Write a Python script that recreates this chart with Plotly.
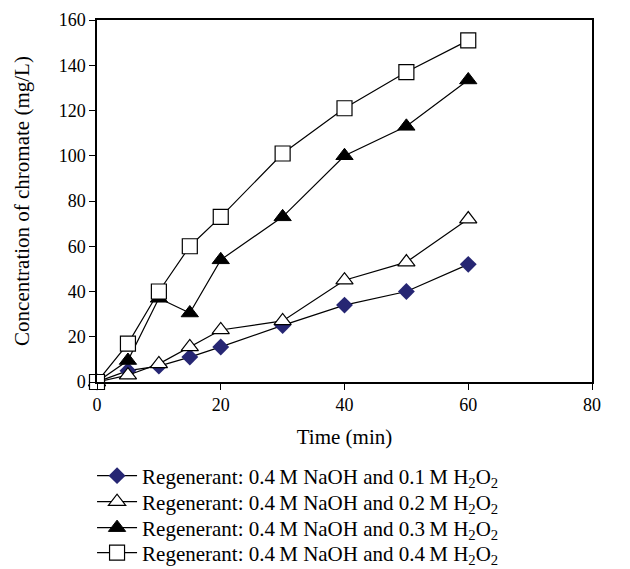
import plotly.graph_objects as go

time_min = [0, 5, 10, 15, 20, 30, 40, 50, 60]
h2o2_01 = [0, 5, 7, 11, 15.5, 25, 34, 40, 52]
h2o2_02 = [0, 3, 8, 15.5, 23, 27, 45, 53, 72]
h2o2_03 = [0, 9.5, 37, 30.5, 54, 73, 100, 113, 133.5]
h2o2_04 = [0, 17, 40, 60, 73, 101, 121, 137, 151]

names = [
    "Regenerant: 0.4\u2009M NaOH and 0.1\u2009M H<sub>2</sub>O<sub>2</sub>",
    "Regenerant: 0.4\u2009M NaOH and 0.2\u2009M H<sub>2</sub>O<sub>2</sub>",
    "Regenerant: 0.4\u2009M NaOH and 0.3\u2009M H<sub>2</sub>O<sub>2</sub>",
    "Regenerant: 0.4\u2009M NaOH and 0.4\u2009M H<sub>2</sub>O<sub>2</sub>",
]

fig = go.Figure()
styles = [
    (h2o2_01, dict(symbol="diamond", size=13, color="#262673", line=dict(width=0))),
    (h2o2_02, dict(symbol="triangle-up", size=15, color="white", line=dict(width=1.2, color="black"))),
    (h2o2_03, dict(symbol="triangle-up", size=15, color="black", line=dict(width=1, color="black"))),
    (h2o2_04, dict(symbol="square", size=15, color="white", line=dict(width=1.2, color="black"))),
]
legend_ids = ["legend", "legend2", "legend3", "legend4"]
for (vals, mk), nm, lid in zip(styles, names, legend_ids):
    fig.add_trace(go.Scatter(
        x=time_min, y=vals, mode="lines+markers", name=nm, legend=lid,
        line=dict(color="black", width=1.2), marker=mk, cliponaxis=False,
    ))

font_family = "Liberation Serif, DejaVu Serif, serif"
legend_rows_y = [-0.2597, -0.3315, -0.4033, -0.4724]
legend_common = dict(
    x=-0.010, xanchor="left", yanchor="middle",
    font=dict(size=21), itemwidth=40,
    bgcolor="rgba(0,0,0,0)",
)

fig.update_layout(
    width=622, height=569,
    margin=dict(l=89, r=38, t=12, b=195, autoexpand=False),
    plot_bgcolor="white", paper_bgcolor="white",
    font=dict(family=font_family, size=18, color="black"),
    showlegend=True,
    legend=dict(y=legend_rows_y[0], **legend_common),
    legend2=dict(y=legend_rows_y[1], **legend_common),
    legend3=dict(y=legend_rows_y[2], **legend_common),
    legend4=dict(y=legend_rows_y[3], **legend_common),
    xaxis=dict(
        range=[0, 80], tickvals=[0, 20, 40, 60, 80],
        showline=True, linecolor="black", linewidth=1.5, mirror=True,
        ticks="outside", ticklen=6, tickcolor="black", showgrid=False, zeroline=False,
        tickfont=dict(size=18),
        title=dict(text="Time (min)", standoff=15, font=dict(size=21)),
    ),
    yaxis=dict(
        range=[0, 160], tickvals=[0, 20, 40, 60, 80, 100, 120, 140, 160],
        showline=True, linecolor="black", linewidth=1.5, mirror=True,
        ticks="outside", ticklen=6, tickcolor="black", showgrid=False, zeroline=False,
        tickfont=dict(size=18),
        title=dict(text="Concentration of chromate (mg/L)", standoff=23, font=dict(size=21)),
    ),
)

fig.write_html("out.html")
